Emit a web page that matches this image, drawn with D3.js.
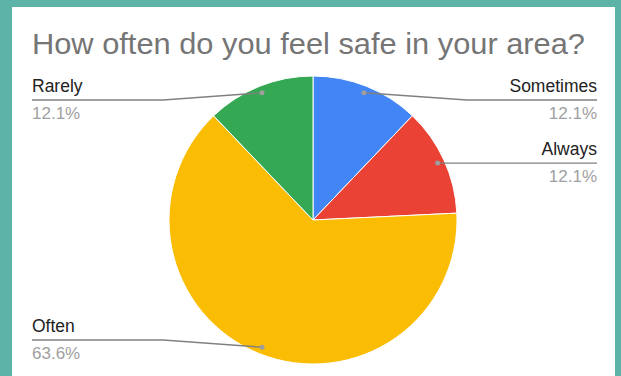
<!DOCTYPE html>
<html>
<head>
<meta charset="utf-8">
<script src="https://cdn.jsdelivr.net/npm/d3@7"></script>
<style>
  html, body { margin: 0; padding: 0; background: #5db3a7; }
  svg { display: block; }
  text { font-family: Arial, "Liberation Sans", sans-serif; }
</style>
</head>
<body>
<svg id="chart" width="621" height="376"></svg>
<script>
// Survey answers, in drawing order (clockwise from 12 o'clock)
const categories = ["Sometimes", "Always", "Often", "Rarely"];
const counts = [4, 4, 21, 4];
const colors = ["#4285f4", "#ea4335", "#fbbc04", "#34a853"];
const title = "How often do you feel safe in your area?";

const W = 621, H = 376;
const svg = d3.select("#chart");

// white card over the teal background
svg.append("rect")
  .attr("x", 12).attr("y", 7)
  .attr("width", 603).attr("height", H)
  .attr("fill", "#ffffff");

svg.append("text")
  .attr("x", 32).attr("y", 54)
  .attr("fill", "#757575")
  .attr("font-size", 30)
  .attr("textLength", 553)
  .attr("lengthAdjust", "spacingAndGlyphs")
  .text(title);

const cx = 313, cy = 220, r = 144;
const total = d3.sum(counts);
const data = categories.map((c, i) => ({ name: c, value: counts[i], color: colors[i] }));

const pie = d3.pie().value(d => d.value).sort(null);
const arcs = pie(data);
const arc = d3.arc().innerRadius(0).outerRadius(r);
const dotArc = d3.arc().innerRadius(137).outerRadius(137);

const g = svg.append("g").attr("transform", `translate(${cx},${cy})`);

g.selectAll("path.slice")
  .data(arcs)
  .join("path")
  .attr("class", "slice")
  .attr("d", arc)
  .attr("fill", d => d.data.color)
  .attr("stroke", "#ffffff")
  .attr("stroke-width", 1);

const fmt = v => (v / total * 100).toFixed(1) + "%";
const leftX = 32, rightX = 597;
const topLimit = 100, bottomLimit = 340;

const labels = arcs.map(a => {
  const [dx, dy] = dotArc.centroid(a);
  const mid = (a.startAngle + a.endAngle) / 2;
  const right = Math.sin(mid) >= 0;
  const px = cx + dx, py = cy + dy;
  const ly = Math.max(topLimit, Math.min(bottomLimit, py));
  const elbowX = right ? cx + 154 : cx - 150;
  return { a, px, py, ly, right, elbowX };
});

const lab = svg.append("g");
labels.forEach(L => {
  const endX = L.right ? rightX : leftX;
  const pts = Math.abs(L.ly - L.py) < 0.5
    ? [[L.px, L.py], [endX, L.ly]]
    : [[L.px, L.py], [L.elbowX, L.ly], [endX, L.ly]];
  lab.append("path")
    .attr("d", d3.line().curve(d3.curveLinear)(pts))
    .attr("fill", "none")
    .attr("stroke", "#808080")
    .attr("stroke-width", 1.4);
  lab.append("circle")
    .attr("cx", L.px).attr("cy", L.py).attr("r", 2.5)
    .attr("fill", "#9e9e9e");
  const anchor = L.right ? "end" : "start";
  lab.append("text")
    .attr("x", endX).attr("y", L.ly - 8)
    .attr("text-anchor", anchor)
    .attr("font-size", 17.5)
    .attr("fill", "#222222")
    .text(L.a.data.name);
  lab.append("text")
    .attr("x", endX).attr("y", L.ly + 19)
    .attr("text-anchor", anchor)
    .attr("font-size", 17)
    .attr("fill", "#a0a0a0")
    .text(fmt(L.a.data.value));
});
</script>
</body>
</html>
